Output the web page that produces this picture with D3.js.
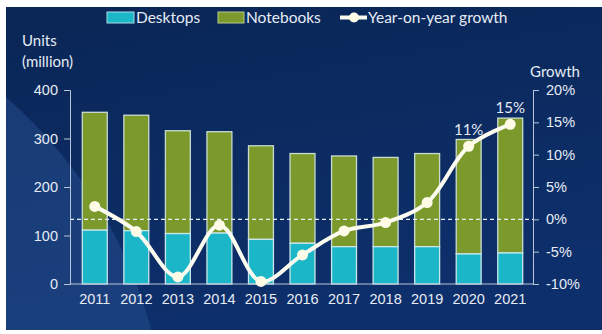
<!DOCTYPE html>
<html lang="en">
<head>
<meta charset="utf-8">
<title>PC shipments</title>
<script src="https://d3js.org/d3.v7.min.js"></script>
<style>
  body { margin: 0; background: #ffffff; }
  svg { display: block; font-family: Lato, "Open Sans", sans-serif; }
  .tick text { fill: #e6ecf5; }
</style>
</head>
<body>
<script>
const years = ["2011","2012","2013","2014","2015","2016","2017","2018","2019","2020","2021"];
const desktops = [111, 110, 104, 105, 92, 84, 77, 77, 77, 62, 64];
const notebooks = [243, 238, 212, 209, 193, 185, 187, 184, 192, 236, 278];
const growth = [2.0, -1.9, -8.9, -0.9, -9.6, -5.5, -1.8, -0.5, 2.6, 11.3, 14.7];
const growthLabels = {"2020": "11%", "2021": "15%"};
const unitTicks = [0, 100, 200, 300, 400];
const growthTicks = [-10, -5, 0, 5, 10, 15, 20];

const w = 602, h = 334;
const svg = d3.select("body").append("svg").attr("width", w).attr("height", h);

// background
const defs = svg.append("defs");
const bg = defs.append("linearGradient").attr("id", "bg").attr("x1", 0).attr("y1", 0).attr("x2", 0.3).attr("y2", 1);
bg.append("stop").attr("offset", "0%").attr("stop-color", "#0a2656");
bg.append("stop").attr("offset", "100%").attr("stop-color", "#0d2f6b");
defs.append("clipPath").attr("id", "panel")
  .append("rect").attr("x", 6).attr("y", 7).attr("width", w - 6).attr("height", h - 11);

const bgG = svg.append("g").attr("clip-path", "url(#panel)");
bgG.append("rect").attr("x", 6).attr("y", 7).attr("width", w - 6).attr("height", h - 11).attr("fill", "url(#bg)");
bgG.append("circle").attr("cx", -300).attr("cy", 450).attr("r", 467)
  .attr("fill", "#2a5594").attr("opacity", 0.45);

const x = d3.scaleBand().domain(years).range([74, 531]).paddingInner(0.4).paddingOuter(0.2);
const yL = d3.scaleLinear().domain([0, 400]).range([284, 90]);
const yR = d3.scaleLinear().domain([-10, 20]).range([284, 90]);

// bars
const bars = svg.append("g");
bars.selectAll(".nb").data(years).join("rect")
  .attr("x", d => x(d)).attr("width", x.bandwidth())
  .attr("y", (d, i) => yL(desktops[i] + notebooks[i]))
  .attr("height", (d, i) => yL(desktops[i]) - yL(desktops[i] + notebooks[i]))
  .attr("fill", "#7c9a2c").attr("stroke", "#c9dbd0").attr("stroke-width", 1.3);
bars.selectAll(".dt").data(years).join("rect")
  .attr("x", d => x(d)).attr("width", x.bandwidth())
  .attr("y", (d, i) => yL(desktops[i]))
  .attr("height", (d, i) => yL(0) - yL(desktops[i]))
  .attr("fill", "#1bb6c8").attr("stroke", "#c9e6ea").attr("stroke-width", 1.3);

// zero growth reference
svg.append("line")
  .attr("x1", 70).attr("x2", 533).attr("y1", yR(0)).attr("y2", yR(0))
  .attr("stroke", "#e8eef5").attr("stroke-width", 1.3).attr("stroke-dasharray", "4,3");

// axes
const axisColor = "#b8c4d8";
const left = svg.append("g").attr("transform", "translate(70,0)")
  .call(d3.axisLeft(yL).tickValues(unitTicks).tickSize(6).tickPadding(6));
const right = svg.append("g").attr("transform", "translate(533,0)")
  .call(d3.axisRight(yR).tickValues(growthTicks).tickSize(6).tickPadding(7).tickFormat(d => d + "%"));
[left, right].forEach(g => {
  g.selectAll("path, line").attr("stroke", axisColor);
  g.selectAll("text").attr("font-size", 14.5);
});
svg.append("line").attr("x1", 70).attr("x2", 533).attr("y1", 284).attr("y2", 284)
  .attr("stroke", axisColor);

const bottom = svg.append("g").attr("transform", "translate(0,284)")
  .call(d3.axisBottom(x).tickSize(0).tickPadding(10));
bottom.select(".domain").remove();
bottom.selectAll("text").attr("font-size", 14.5);

// growth line
const line = d3.line()
  .x((d, i) => x(years[i]) + x.bandwidth() / 2)
  .y(d => yR(d))
  .curve(d3.curveCatmullRom.alpha(0.5));
svg.append("path").datum(growth).attr("d", line)
  .attr("fill", "none").attr("stroke", "#fbfbf0").attr("stroke-width", 4);
svg.selectAll(".dot").data(growth).join("circle")
  .attr("cx", (d, i) => x(years[i]) + x.bandwidth() / 2)
  .attr("cy", d => yR(d)).attr("r", 5.5)
  .attr("fill", "#fffbe6");

svg.selectAll(".glab").data(years.filter(y => growthLabels[y])).join("text")
  .attr("x", d => x(d) + x.bandwidth() / 2)
  .attr("y", d => yR(growth[years.indexOf(d)]) - 11)
  .attr("text-anchor", "middle").attr("font-size", 15).attr("fill", "#e6ecf5")
  .text(d => growthLabels[d]);

// axis titles
svg.append("text").attr("x", 22).attr("y", 46).attr("fill", "#e6ecf5").attr("font-size", 15).text("Units");
svg.append("text").attr("x", 22).attr("y", 67).attr("fill", "#e6ecf5").attr("font-size", 15).text("(million)");
svg.append("text").attr("x", 580).attr("y", 77).attr("text-anchor", "end").attr("fill", "#e6ecf5").attr("font-size", 15).text("Growth");

// legend
const legend = svg.append("g");
legend.append("rect").attr("x", 107).attr("y", 12).attr("width", 27).attr("height", 11)
  .attr("fill", "#1bb6c8").attr("stroke", "#a6dde3");
legend.append("text").attr("x", 136).attr("y", 23).attr("fill", "#e6ecf5").attr("font-size", 15.5).text("Desktops");
legend.append("rect").attr("x", 218).attr("y", 12).attr("width", 26).attr("height", 11)
  .attr("fill", "#7c9a2c").attr("stroke", "#b7cc8a");
legend.append("text").attr("x", 246).attr("y", 23).attr("fill", "#e6ecf5").attr("font-size", 15.5).text("Notebooks");
legend.append("line").attr("x1", 340).attr("x2", 367).attr("y1", 17.5).attr("y2", 17.5)
  .attr("stroke", "#fbfbf0").attr("stroke-width", 4);
legend.append("circle").attr("cx", 354).attr("cy", 17.5).attr("r", 5).attr("fill", "#fffbe6");
legend.append("text").attr("x", 368).attr("y", 23).attr("fill", "#e6ecf5").attr("font-size", 15.5).text("Year-on-year growth");
</script>
</body>
</html>
